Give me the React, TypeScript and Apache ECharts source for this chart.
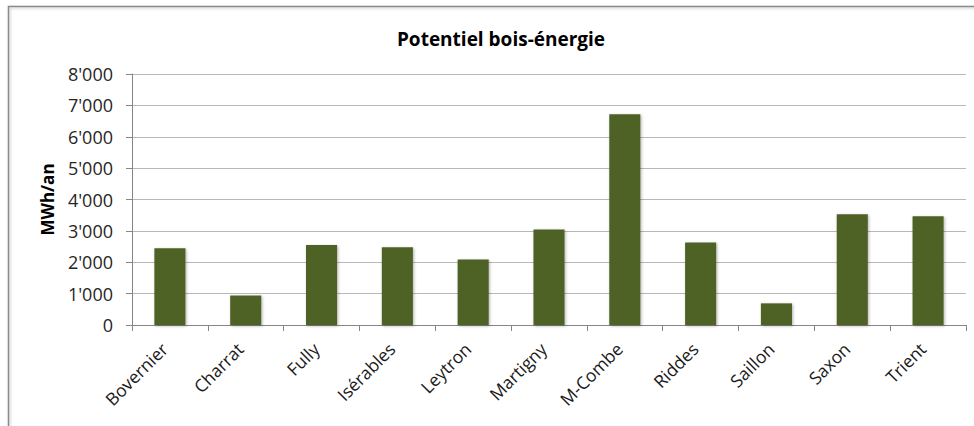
import React, { useEffect, useRef } from "react";
import * as echarts from "echarts";

const categories = ["Bovernier", "Charrat", "Fully", "Isérables", "Leytron", "Martigny", "M-Combe", "Riddes", "Saillon", "Saxon", "Trient"];
const values = [2450, 940, 2550, 2480, 2090, 3040, 6720, 2630, 690, 3530, 3470];
const titleText = "Potentiel bois-énergie";
const yAxisName = "MWh/an";

const fmt = (v: number) => {
  const s = String(Math.round(v));
  return s.replace(/\B(?=(\d{3})+(?!\d))/g, "'");
};

export default function App() {
  const ref = useRef<HTMLDivElement>(null);
  useEffect(() => {
    if (!ref.current) return;
    const chart = echarts.init(ref.current, undefined, { renderer: "svg" });
    const font = "'Open Sans', 'Liberation Sans', sans-serif";
    chart.setOption({
      animation: false,
      backgroundColor: "#ffffff",
      textStyle: { fontFamily: font },
      title: {
        text: titleText,
        left: 496,
        top: 24,
        textAlign: "center",
        textStyle: { fontFamily: font, fontWeight: "bold", fontSize: 19, color: "#000000" },
      },
      graphic: [
        {
          type: "rect",
          shape: { x: 8.5, y: 6.5, width: 1000, height: 500 },
          style: { fill: "none", stroke: "#8a8a8a", lineWidth: 1.5, shadowColor: "rgba(0,0,0,0.25)", shadowBlur: 3, shadowOffsetX: 1, shadowOffsetY: 1 },
          silent: true,
          z: -1,
        },
      ],
      grid: { left: 132, right: 8, top: 74, bottom: 101, containLabel: false },
      xAxis: {
        type: "category",
        data: categories,
        axisLine: { lineStyle: { color: "#868686", width: 1 } },
        axisTick: { show: true, length: 6, lineStyle: { color: "#868686" } },
        axisLabel: { rotate: 45, fontSize: 17.5, color: "#1a1a1a", margin: 15, padding: [0, 8, 0, 0], fontFamily: font },
      },
      yAxis: {
        type: "value",
        min: 0,
        max: 8000,
        interval: 1000,
        name: yAxisName,
        nameLocation: "middle",
        nameGap: 76,
        nameRotate: 90,
        nameTextStyle: { fontFamily: font, fontWeight: "bold", fontSize: 17, color: "#000000" },
        axisLine: { show: true, lineStyle: { color: "#868686", width: 1 } },
        axisTick: { show: true, length: 6, lineStyle: { color: "#868686" } },
        axisLabel: { formatter: (v: number) => fmt(v), fontSize: 18, color: "#262626", margin: 19, fontFamily: font },
        splitLine: { show: true, lineStyle: { color: "#b8b8b8", width: 1 } },
      },
      series: [
        {
          type: "bar",
          data: values,
          barCategoryGap: "59%",
          itemStyle: {
            color: "#4f6228",
            shadowColor: "rgba(0,0,0,0.3)",
            shadowBlur: 3,
            shadowOffsetX: 1,
            shadowOffsetY: 1,
          },
        },
      ],
    });
    return () => chart.dispose();
  }, []);
  return <div ref={ref} style={{ position: "fixed", left: 0, top: 0, width: 974, height: 426 }} />;
}
